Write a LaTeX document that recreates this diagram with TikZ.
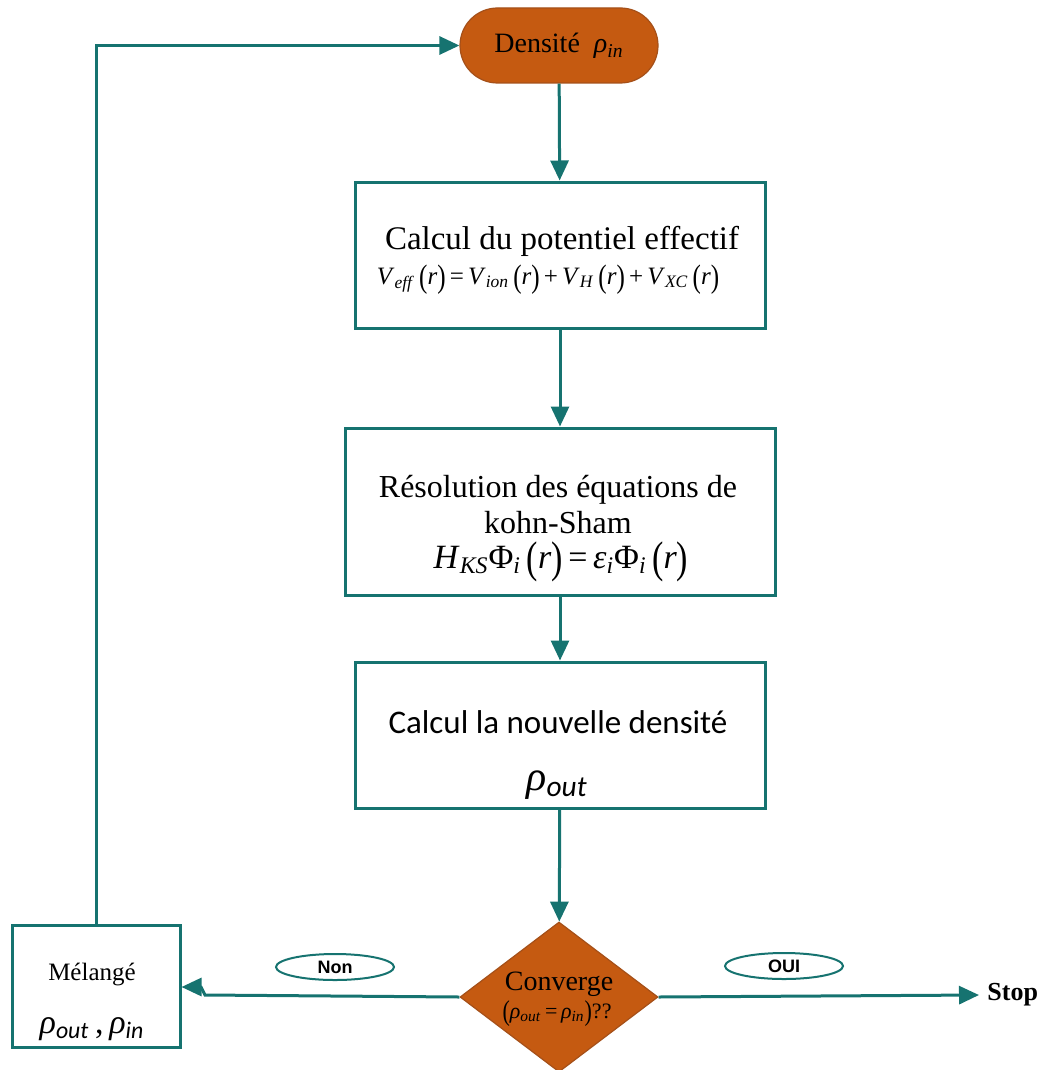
\documentclass[tikz,border=0pt]{standalone}
\usepackage{fontspec}
\usepackage{graphicx}
\setmainfont{Liberation Serif}
\newfontfamily\carlito{Carlito}
\newfontfamily\lsans{Liberation Sans}
\usetikzlibrary{arrows.meta,shapes.geometric}
\definecolor{tealc}{RGB}{22,115,112}
\definecolor{orng}{RGB}{197,90,17}
\definecolor{orngd}{RGB}{165,80,25}
\newcommand\rsub[1]{\textsubscript{\textit{#1}}}
\newcommand\csub[1]{\textsubscript{{\carlito\itshape #1}}}
\newcommand\fs[1]{\fontsize{#1}{#1}\selectfont}
\newcommand\lpar{\raisebox{-0.12em}{\scalebox{1}[1.3]{(}}}
\newcommand\rpar{\raisebox{-0.12em}{\scalebox{1}[1.3]{)}}}
\newcommand\pr{\,\lpar\textit{r}\rpar}
\begin{document}
\begin{tikzpicture}[x=0.5pt,y=-0.5pt,
  conn/.style={draw=tealc,line width=1.5pt,-{Triangle[length=10pt,width=9pt]}},
  plain/.style={draw=tealc,line width=1.5pt},
  procbox/.style={draw=tealc,line width=1.5pt,fill=white,inner sep=0pt},
  pill/.style={draw=orngd,line width=0.6pt,fill=orng,rounded corners=18.75pt,minimum width=99pt,minimum height=37.5pt,inner sep=0pt},
  decision/.style={diamond,draw=orngd,line width=0.6pt,fill=orng,minimum width=99pt,minimum height=75pt,inner sep=0pt},
  lbl/.style={draw=tealc,line width=1pt,ellipse,fill=white,minimum width=59pt,minimum height=13pt,inner sep=0pt,font=\lsans\bfseries\fs{9}},
  txt/.style={anchor=base,inner sep=0pt,text=black}
]
\useasboundingbox (0,0) rectangle (1044,1070);

% shapes
\node[pill] (start) at (559,45.5) {};
\node[procbox,minimum width=205pt,minimum height=73pt] (b1) at (560,255) {};
\node[procbox,minimum width=215pt,minimum height=83.5pt] (b2) at (560,511.5) {};
\node[procbox,minimum width=205pt,minimum height=73pt] (b3) at (560,735) {};
\node[decision] (dec) at (559,997) {};
\node[procbox,minimum width=84pt,minimum height=61pt] (mel) at (96,986) {};
\coordinate (stopend) at (979,995);
\coordinate (jog1) at (205,995);
\coordinate (jog2) at (201,987);

% texts
\node[txt] (tstart) at (559,53) {\fs{14}Densité\ \ \textit{ρ}\rsub{in}};
\node[txt] (t11) at (562,249) {\fs{16.5}Calcul du potentiel effectif};
\node[txt] (t12) at (548,284) {\fs{12.5}\textit{V}\rsub{eff}\pr\,=\,\textit{V}\rsub{ion}\pr\,+\,\textit{V}\rsub{H}\pr\,+\,\textit{V}\rsub{XC}\pr};
\node[txt] (t21) at (558,497) {\fs{16}Résolution des équations de};
\node[txt] (t22) at (558,533) {\fs{16}kohn-Sham};
\node[txt] (t23) at (561,568) {\fs{17}\textit{H}\rsub{KS}Φ\rsub{i}\pr\,=\,\textit{ε}\rsub{i}Φ\rsub{i}\pr};
\node[txt] (t31) at (558,733) {\carlito\fs{16.5}Calcul la nouvelle densité};
\node[txt] (t32) at (557,790) {\fs{21}\textit{ρ}\csub{out}};
\node[txt] (td1) at (559,990) {\fs{14}Converge};
\node[txt] (td2) at (557,1018) {\fs{11}\lpar\textit{ρ}\rsub{out}\,=\,\textit{ρ}\rsub{in}\rpar??};
\node[txt] (tm1) at (92,980) {\fs{12.5}Mélangé};
\node[txt] (tm2) at (92,1033) {\fs{17}\textit{ρ}\csub{out}\,,\,\textit{ρ}\csub{in}};
\node[lbl] (non) at (335,967) {Non};
\node[lbl] (oui) at (784,966) {OUI};
\node[anchor=base west,inner sep=0pt,font=\bfseries\fs{13}] (stop) at (987,1000) {Stop};

% connectors
\draw[conn] (start) -- (b1);
\draw[conn] (b1) -- (b2);
\draw[conn] (b2) -- (b3);
\draw[conn] (b3) -- (dec);
\draw[conn] (dec.east) -- (stopend);
\draw[conn] (dec.west) -- (jog1) -- (jog2) -- (mel.east |- jog2);
\draw[conn] (mel.north) |- (start.west);
\end{tikzpicture}
\end{document}
